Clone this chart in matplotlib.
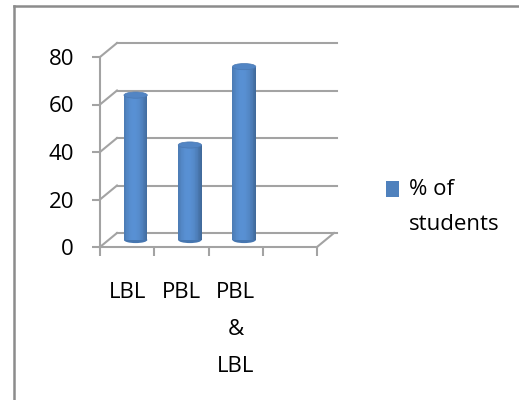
import matplotlib.pyplot as plt
import numpy as np
from matplotlib.colors import to_rgb
from matplotlib.lines import Line2D
from matplotlib.patches import Ellipse, Rectangle

categories = ["LBL", "PBL", "PBL\n&\nLBL"]
pct_students = [61, 40, 73]
y_ticks = [0, 20, 40, 60, 80]
n_slots = 4  # category axis keeps a fourth, empty slot
series_name = "% of\nstudents"

BLUE = "#4f81bd"
GRID = "#a3a3a3"
FRAME = "#8c8c8c"
INK = "#000000"
FONT = 16

plt.rcParams["font.family"] = ["Open Sans", "DejaVu Sans"]

W, H = 519, 400
fig = plt.figure(figsize=(W / 100, H / 100), dpi=100)

# front face of the plot box, in pixels
left, right, top, bottom = 100, 317, 57, 247
ax = fig.add_axes([left / W, 1 - bottom / H, (right - left) / W, (bottom - top) / H])
ax.set_xlim(0, n_slots)
ax.set_ylim(0, 80)
ax.patch.set_visible(False)

# depth of the box in data units: 17 px right, 14 px up
DX = 17 / ((right - left) / n_slots)
DY = 14 / ((bottom - top) / 80)
LW = 1.5

# back wall gridlines and the side-wall diagonals
for y in y_ticks:
    ax.plot([DX, n_slots + DX + 0.05], [y + DY, y + DY], color=GRID, lw=LW, clip_on=False, zorder=1)
    ax.plot([0, DX], [y, y + DY], color=GRID, lw=LW, clip_on=False, zorder=1)
ax.plot([n_slots, n_slots + DX], [0, DY], color=GRID, lw=LW, clip_on=False, zorder=1)

# front axes
for s in ["top", "right"]:
    ax.spines[s].set_visible(False)
for s in ["left", "bottom"]:
    ax.spines[s].set_color(GRID)
    ax.spines[s].set_linewidth(LW)

ax.set_yticks(y_ticks)
ax.set_yticklabels([str(t) for t in y_ticks])
ax.tick_params(axis="y", length=5.8, width=LW, color=GRID, pad=13, labelsize=FONT, labelcolor=INK)

ax.set_xticks(range(n_slots + 1))
ax.set_xticklabels([""] * (n_slots + 1))
ax.tick_params(axis="x", which="major", length=6.5, width=LW, color=GRID)
ax.set_xticks([i + 0.5 for i in range(len(categories))], minor=True)
ax.set_xticklabels(categories, minor=True, linespacing=2.0)
ax.tick_params(axis="x", which="minor", length=0, pad=25, labelsize=FONT, labelcolor=INK)

# cylinders, standing at mid depth
base_rgb = np.array(to_rgb(BLUE))
cyl_w = 0.43
ell_h = 2.6
n_strips = 30
for i, v in enumerate(pct_students):
    cx = i + 0.5 + DX / 2
    base = DY / 2
    edges = np.linspace(cx - cyl_w / 2, cx + cyl_w / 2, n_strips + 1)
    mids = (edges[:-1] + edges[1:]) / 2
    s = (mids - cx) / (cyl_w / 2)
    lum = 0.8 + 0.32 * (1 - ((s + 0.15) / 1.15) ** 2)
    cols = np.clip(base_rgb[None, :] * lum[:, None], 0, 1)
    ax.add_patch(Ellipse((cx, base), cyl_w, ell_h, facecolor="#4676b0", edgecolor="none",
                         zorder=2.9, clip_on=False))
    ax.bar(mids, v, width=edges[1] - edges[0], bottom=base, color=cols, linewidth=0,
           zorder=3, clip_on=False)
    ax.add_patch(Ellipse((cx, base + v), cyl_w, ell_h, facecolor="#5285c4", edgecolor="#4a78b2",
                         lw=0.5, zorder=4, clip_on=False))

# legend
fig.add_artist(Rectangle((386 / W, 1 - 197 / H), 13 / W, 16 / H, transform=fig.transFigure,
                         facecolor=BLUE, edgecolor="none"))
fig.text(409 / W, 1 - 179 / H, series_name, va="top", ha="left", fontsize=FONT,
         color=INK, linespacing=1.85)

# outer chart frame, running off the right and bottom edges
fig.add_artist(Line2D([14 / W, 14 / W], [0, 1 - 6 / H], transform=fig.transFigure, color=FRAME, lw=1.8))
fig.add_artist(Line2D([14 / W, 1], [1 - 6 / H, 1 - 6 / H], transform=fig.transFigure, color=FRAME, lw=1.8))

fig.savefig("out.png", dpi=100)
